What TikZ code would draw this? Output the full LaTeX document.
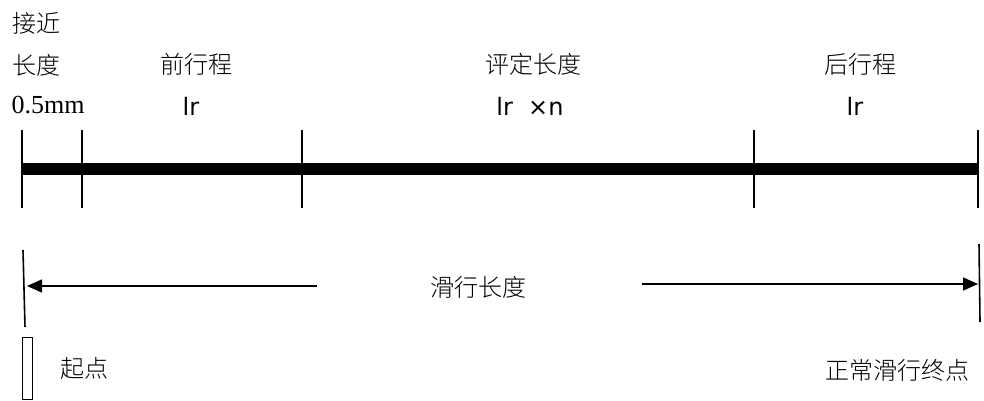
\documentclass[tikz,border=0pt]{standalone}
\usepackage{fontspec}
\setmainfont{Liberation Serif}
\newfontfamily\cjk{Noto Sans CJK SC Light}
\newfontfamily\lrfont{DejaVu Sans}
\usetikzlibrary{positioning, arrows.meta, calc}

\begin{document}
\begin{tikzpicture}[x=0.5pt, y=-0.5pt,
      lbl/.style={font=\cjk\fontsize{12}{14}\selectfont, inner sep=0pt},
      val/.style={font=\lrfont\fontsize{12}{14}\selectfont, inner sep=0pt},
      tick/.style={line width=0.8pt},
      arr/.style={-{Triangle[length=7.5pt, width=6.5pt]}, line width=0.8pt}]
    \useasboundingbox (0,0) rectangle (984,401);
    % thick bar with ticks
    \coordinate (b0) at (22,169);
    \coordinate (b1) at (82,169);
    \coordinate (b2) at (302,169);
    \coordinate (b3) at (754,169);
    \coordinate (b4) at (978,169);
    \draw[line width=6pt] (b0) -- (b4);
    \foreach \p in {b0,b1,b2,b3,b4}
      \draw[tick] ($(\p)+(0,-39)$) -- ($(\p)+(0,39)$);
    % labels above the bar
    \node[lbl] (jj) at (36,23) {接近};
    \node[lbl] (cd) at (36,65) {长度};
    \node[font=\fontsize{13}{15}\selectfont, inner sep=0pt] (mm) at (48,105) {0.5mm};
    \node[lbl] (qx) at (196,64) {前行程};
    \node[val] (lr1) at (191,106) {lr};
    \node[lbl] (pd) at (533,64) {评定长度};
    \node[val] (lrn) at (530,106) {lr\ \ ×n};
    \node[lbl] (hx) at (860,64) {后行程};
    \node[val] (lr2) at (855,106) {lr};
    % sliding length
    \draw[tick] (23,250) -- (25,327);
    \draw[tick] (979,244) -- (980,322);
    \node[lbl] (hd) at (478,287) {滑行长度};
    \coordinate (la) at (317,286);
    \coordinate (lt) at (27,286);
    \coordinate (ra) at (642,284);
    \coordinate (rt) at (978,284);
    \draw[arr] (la) -- (lt);
    \draw[arr] (ra) -- (rt);
    % start and end
    \node[draw, line width=0.5pt, minimum width=5pt, minimum height=31pt,
          inner sep=0pt] (qd) at (27,368.5) {};
    \node[lbl, right=14pt of qd] (qdt) {起点};
    \node[lbl] (zd) at (897,370) {正常滑行终点};
  \end{tikzpicture}
\end{document}
